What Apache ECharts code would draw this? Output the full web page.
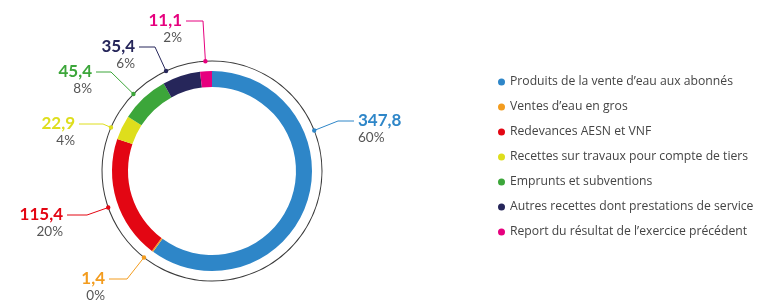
<!DOCTYPE html>
<html>
<head>
<meta charset="utf-8">
<script src="https://cdn.jsdelivr.net/npm/echarts@6/dist/echarts.min.js"></script>
<style>
  html, body { margin: 0; padding: 0; background: #fff; }
  #chart { width: 763px; height: 300px; }
</style>
</head>
<body>
<div id="chart"></div>
<script>
const categories = [
  'Produits de la vente d\u2019eau aux abonnés',
  'Ventes d\u2019eau en gros',
  'Redevances AESN et VNF',
  'Recettes sur travaux pour compte de tiers',
  'Emprunts et subventions',
  'Autres recettes dont prestations de service',
  'Report du résultat de l\u2019exercice précédent'
];
const values = [347.8, 1.4, 115.4, 22.9, 45.4, 35.4, 11.1];
const colors = ['#2e86c8', '#f39c1e', '#e30613', '#dede1c', '#3ca63a', '#26265a', '#e6007e'];

// label placement: [x of text edge, y of value line centre, text align]
const labelSpots = [
  [358, 121, 'left'],
  [105, 279, 'right'],
  [63, 215, 'right'],
  [75, 124, 'right'],
  [92, 72, 'right'],
  [135, 47, 'right'],
  [182, 21, 'right']
];
const leaderLen = [16, 18, 20, 24, 15, 16, 17];

const center = [212, 171];
const outlineR = 110;
const gap = 4;

function fmt(v) {
  return String(v).replace('.', ',');
}

// points of a leader line: on the outline circle, elbow, end near text
function leaderPoints(i) {
  const [x, y, align] = labelSpots[i];
  const end = align === 'left' ? x - gap : x + gap;
  const elbow = align === 'left' ? end - leaderLen[i] : end + leaderLen[i];
  const dx = elbow - center[0];
  const dy = y - center[1];
  const d = Math.hypot(dx, dy);
  const onRing = [center[0] + outlineR * dx / d, center[1] + outlineR * dy / d];
  return [onRing, [elbow, y], [end, y]];
}

const chart = echarts.init(document.getElementById('chart'));

const option = {
  animation: false,
  legend: {
    orient: 'vertical',
    left: 493,
    top: 70,
    icon: 'circle',
    itemWidth: 7,
    itemHeight: 7,
    itemGap: 11,
    selectedMode: false,
    textStyle: {
      fontFamily: 'Open Sans',
      fontSize: 12.2,
      lineHeight: 14,
      color: '#444'
    },
    data: categories.map((name, i) => ({ name, itemStyle: { color: colors[i] } }))
  },
  series: [
    {
      type: 'pie',
      center: center,
      radius: [84, 100],
      startAngle: 90,
      silent: true,
      label: { show: false },
      labelLine: { show: false },
      itemStyle: { borderWidth: 0 },
      data: categories.map((name, i) => ({
        name,
        value: values[i],
        itemStyle: { color: colors[i] }
      }))
    },
    {
      type: 'pie',
      center: center,
      radius: [outlineR - 0.5, outlineR + 0.5],
      startAngle: 90,
      silent: true,
      percentPrecision: 0,
      itemStyle: { color: '#3a3a3a', borderWidth: 0 },
      label: {
        show: true,
        position: 'outside',
        fontFamily: 'Lato',
        formatter: p => '{v|' + fmt(p.value) + '}\n{p|' + p.percent + '%}',
        rich: {
          v: { fontSize: 17, fontWeight: 'bold', lineHeight: 18, fontFamily: 'Lato' },
          p: { fontSize: 13.5, color: '#555', lineHeight: 16, fontFamily: 'Lato' }
        }
      },
      labelLine: { show: true, lineStyle: { width: 1 } },
      labelLayout: params => {
        const i = params.dataIndex;
        const [x, y, align] = labelSpots[i];
        return {
          x: x,
          y: y - 9,
          align: align,
          verticalAlign: 'top',
          labelLinePoints: leaderPoints(i)
        };
      },
      data: categories.map((name, i) => ({
        name,
        value: values[i],
        label: { color: colors[i] },
        labelLine: { lineStyle: { color: colors[i] } }
      }))
    }
  ]
};

chart.setOption(option);

// small dots where the leader lines touch the outline
chart.setOption({
  graphic: values.map((v, i) => {
    const p = leaderPoints(i)[0];
    return {
      type: 'circle',
      shape: { cx: p[0], cy: p[1], r: 2.2 },
      style: { fill: colors[i] },
      z: 10
    };
  })
});
</script>
</body>
</html>
